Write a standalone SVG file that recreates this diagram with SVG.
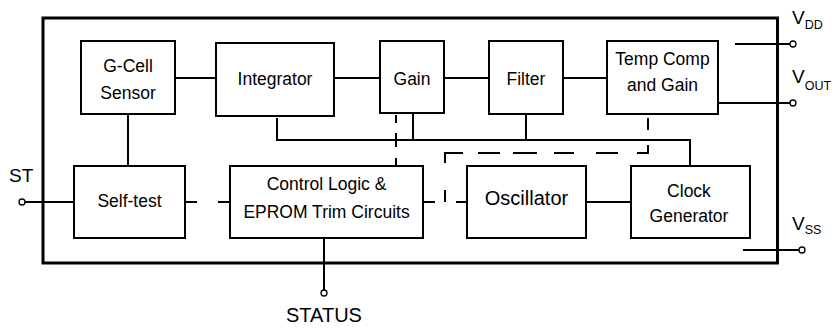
<svg xmlns="http://www.w3.org/2000/svg" width="833" height="328" viewBox="0 0 833 328">
<style>
.box{fill:#fff;stroke:#000;stroke-width:2}
.ln{fill:none;stroke:#000;stroke-width:2}
.frame{fill:none;stroke:#000;stroke-width:3}
.pin{fill:#fff;stroke:#000;stroke-width:1.3}
text{font-family:"Liberation Sans",Arial,sans-serif;fill:#000}
.t{font-size:17.5px;text-anchor:middle}
.big{font-size:20px;text-anchor:middle}
.v{font-size:19px}
.sub{font-size:12.5px}
</style>
<rect width="833" height="328" fill="#fff"/>
<rect class="frame" x="43" y="18" width="734.5" height="245"/>
<g id="connectors">
  <line class="ln" x1="175" y1="78" x2="216" y2="78"/>
  <line class="ln" x1="334" y1="78" x2="380" y2="78"/>
  <line class="ln" x1="444" y1="78" x2="489" y2="78"/>
  <line class="ln" x1="563" y1="78" x2="607" y2="78"/>
  <line class="ln" x1="128" y1="114" x2="128" y2="166"/>
  <polyline class="ln" points="277,118 277,140 690,140 690,166"/>
  <line class="ln" x1="413" y1="113" x2="413" y2="140"/>
  <line class="ln" x1="526" y1="114" x2="526" y2="140"/>
  <line class="ln" x1="586" y1="202" x2="631" y2="202"/>
  <line class="ln" x1="25" y1="202" x2="74" y2="202"/>
  <line class="ln" x1="324" y1="238" x2="324" y2="290"/>
  <line class="ln" x1="735" y1="44" x2="790" y2="44"/>
  <line class="ln" x1="718" y1="103" x2="790" y2="103"/>
  <line class="ln" x1="743" y1="250" x2="799" y2="250"/>
  <line class="ln" x1="185" y1="202" x2="197" y2="202"/>
  <line class="ln" x1="218" y1="202" x2="230" y2="202"/>
  <line class="ln" x1="396" y1="115" x2="396" y2="123"/>
  <line class="ln" x1="396" y1="133" x2="396" y2="147"/>
  <line class="ln" x1="396" y1="158" x2="396" y2="166"/>
  <line class="ln" x1="648" y1="98" x2="648" y2="105"/>
  <line class="ln" x1="648" y1="118" x2="648" y2="130"/>
  <polyline class="ln" points="648,145 648,153 637,153"/>
  <line class="ln" x1="596" y1="153" x2="618" y2="153"/>
  <line class="ln" x1="554" y1="153" x2="574" y2="153"/>
  <line class="ln" x1="513" y1="153" x2="537" y2="153"/>
  <line class="ln" x1="478" y1="153" x2="500" y2="153"/>
  <polyline class="ln" points="463,153 445,153 445,163"/>
  <line class="ln" x1="445" y1="190" x2="445" y2="202"/>
  <line class="ln" x1="423" y1="202" x2="435" y2="202"/>
  <line class="ln" x1="456" y1="202" x2="467" y2="202"/>
</g>
<g id="pins">
  <circle class="pin" cx="22" cy="202" r="3"/>
  <circle class="pin" cx="324" cy="293" r="3"/>
  <circle class="pin" cx="793" cy="44" r="3"/>
  <circle class="pin" cx="793" cy="103" r="3"/>
  <circle class="pin" cx="802" cy="250" r="3"/>
</g>
<g id="gcell"><rect class="box" x="81" y="41" width="94" height="73"/><text class="t" x="128" y="72">G-Cell</text><text class="t" x="128" y="99">Sensor</text></g>
<g id="integrator"><rect class="box" x="216" y="43" width="118" height="73"/><text class="t" x="275" y="85">Integrator</text></g>
<g id="gain"><rect class="box" x="380" y="41" width="64" height="72"/><text class="t" x="412" y="85">Gain</text></g>
<g id="filter"><rect class="box" x="489" y="41" width="74" height="73"/><text class="t" x="526" y="85">Filter</text></g>
<g id="tempcomp"><rect class="box" x="607" y="41" width="111" height="73"/><text class="t" x="662.5" y="65">Temp Comp</text><text class="t" x="662.5" y="91">and Gain</text></g>
<g id="selftest"><rect class="box" x="74" y="166" width="111" height="72"/><text class="t" x="129.5" y="207">Self-test</text></g>
<g id="control"><rect class="box" x="230" y="166" width="193" height="72"/><text class="t" x="326.5" y="190">Control Logic &amp;</text><text class="t" x="326.5" y="218">EPROM Trim Circuits</text></g>
<g id="oscillator"><rect class="box" x="467" y="166" width="119" height="72"/><text class="big" x="526.5" y="205">Oscillator</text></g>
<g id="clockgen"><rect class="box" x="631" y="166" width="119" height="72"/><text class="t" x="689" y="197">Clock</text><text class="t" x="689" y="222">Generator</text></g>
<g id="labels">
  <text class="v" x="9" y="182">ST</text>
  <text class="big" x="324" y="322">STATUS</text>
  <text class="v" x="792" y="24">V<tspan class="sub" y="29">DD</tspan></text>
  <text class="v" x="792" y="83">V<tspan class="sub" y="90">OUT</tspan></text>
  <text class="v" x="792" y="230">V<tspan class="sub" y="234">SS</tspan></text>
</g>
</svg>
